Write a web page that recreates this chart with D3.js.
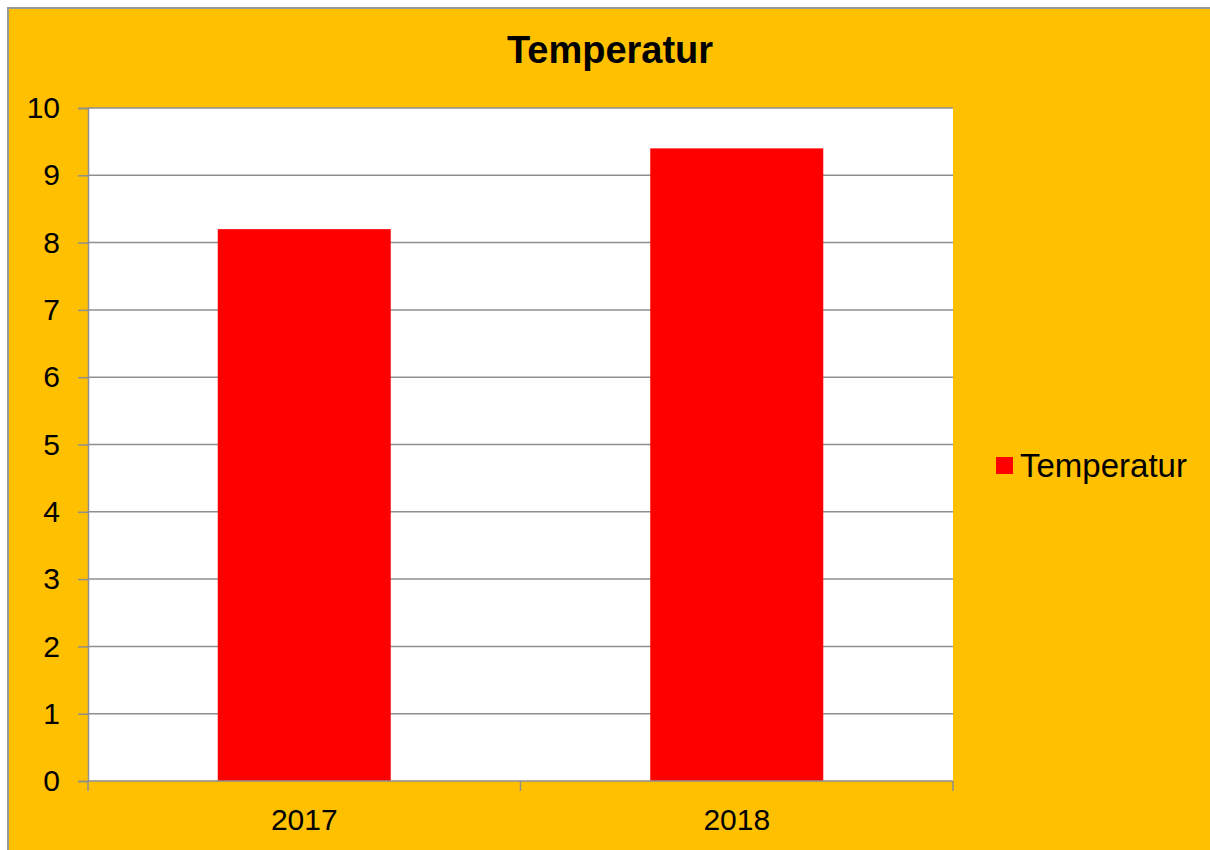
<!DOCTYPE html>
<html>
<head>
<meta charset="utf-8">
<script src="https://cdn.jsdelivr.net/npm/d3@7"></script>
<style>
  body { margin: 0; background: #fff; }
  svg text { font-family: Arial, "Liberation Sans", sans-serif; fill: #000; }
</style>
</head>
<body>
<div id="chart"></div>
<script>
const title = 'Temperatur';
const years = ['2017', '2018'];
const temps = [8.2, 9.4];
const yTicks = [0, 1, 2, 3, 4, 5, 6, 7, 8, 9, 10];

const w = 1210, h = 850;
const plotLeft = 88, plotRight = 953, plotTop = 108, plotBottom = 781;
const gridColor = '#8f8f8f';

const svg = d3.select('#chart').append('svg').attr('width', w).attr('height', h);

// chart area (cut off on the right and bottom like the screenshot)
svg.append('rect')
  .attr('x', 8).attr('y', 8)
  .attr('width', w + 20).attr('height', h + 20)
  .attr('fill', '#FFC000')
  .attr('stroke', '#999').attr('stroke-width', 2);

svg.append('rect')
  .attr('x', plotLeft).attr('y', plotTop)
  .attr('width', plotRight - plotLeft).attr('height', plotBottom - plotTop)
  .attr('fill', '#fff');

let x = d3.scaleBand()
  .domain(years)
  .range([plotLeft, plotRight])
  .paddingInner(0.6)
  .paddingOuter(0.3);

let y = d3.scaleLinear()
  .domain([0, 10])
  .range([plotBottom, plotTop]);

// gridlines
svg.append('g')
  .selectAll('line')
  .data(yTicks.slice(1))
  .enter()
  .append('line')
  .attr('x1', plotLeft).attr('x2', plotRight)
  .attr('y1', d => y(d)).attr('y2', d => y(d))
  .attr('stroke', gridColor).attr('stroke-width', 1.5);

svg.selectAll('rect.bar')
  .data(temps)
  .enter()
  .append('rect')
  .attr('class', 'bar')
  .attr('x', (d, i) => x(years[i]))
  .attr('y', d => y(d))
  .attr('width', x.bandwidth())
  .attr('height', d => plotBottom - y(d))
  .attr('fill', '#FF0000');

// y axis
const yAxis = svg.append('g')
  .attr('transform', 'translate(' + plotLeft + ',0)')
  .call(d3.axisLeft(y).tickValues(yTicks).tickSize(10).tickPadding(18).tickFormat(d3.format('d')));
yAxis.select('.domain').attr('stroke', gridColor).attr('stroke-width', 1.5);
yAxis.selectAll('.tick line').attr('stroke', gridColor).attr('stroke-width', 1.5);
yAxis.selectAll('.tick text')
  .attr('font-size', 30)
  .attr('font-family', 'Arial, "Liberation Sans", sans-serif')
  .attr('fill', '#000');

// x axis: ticks sit on category boundaries
const xEdges = [plotLeft, (plotLeft + plotRight) / 2, plotRight];
svg.append('line')
  .attr('x1', plotLeft).attr('x2', plotRight)
  .attr('y1', plotBottom).attr('y2', plotBottom)
  .attr('stroke', gridColor).attr('stroke-width', 1.5);
svg.append('g')
  .selectAll('line')
  .data(xEdges)
  .enter()
  .append('line')
  .attr('x1', d => d).attr('x2', d => d)
  .attr('y1', plotBottom).attr('y2', plotBottom + 10)
  .attr('stroke', gridColor).attr('stroke-width', 1.5);

svg.append('g')
  .selectAll('text')
  .data(years)
  .enter()
  .append('text')
  .attr('x', d => x(d) + x.bandwidth() / 2)
  .attr('y', 830)
  .attr('text-anchor', 'middle')
  .attr('font-size', 30)
  .text(d => d);

// title
svg.append('text')
  .attr('x', 610).attr('y', 63)
  .attr('text-anchor', 'middle')
  .attr('font-size', 38)
  .attr('font-weight', 'bold')
  .text(title);

// legend
svg.append('rect')
  .attr('x', 996).attr('y', 457)
  .attr('width', 17).attr('height', 17)
  .attr('fill', '#FF0000');
svg.append('text')
  .attr('x', 1020).attr('y', 477)
  .attr('font-size', 33)
  .text(title);
</script>
</body>
</html>
